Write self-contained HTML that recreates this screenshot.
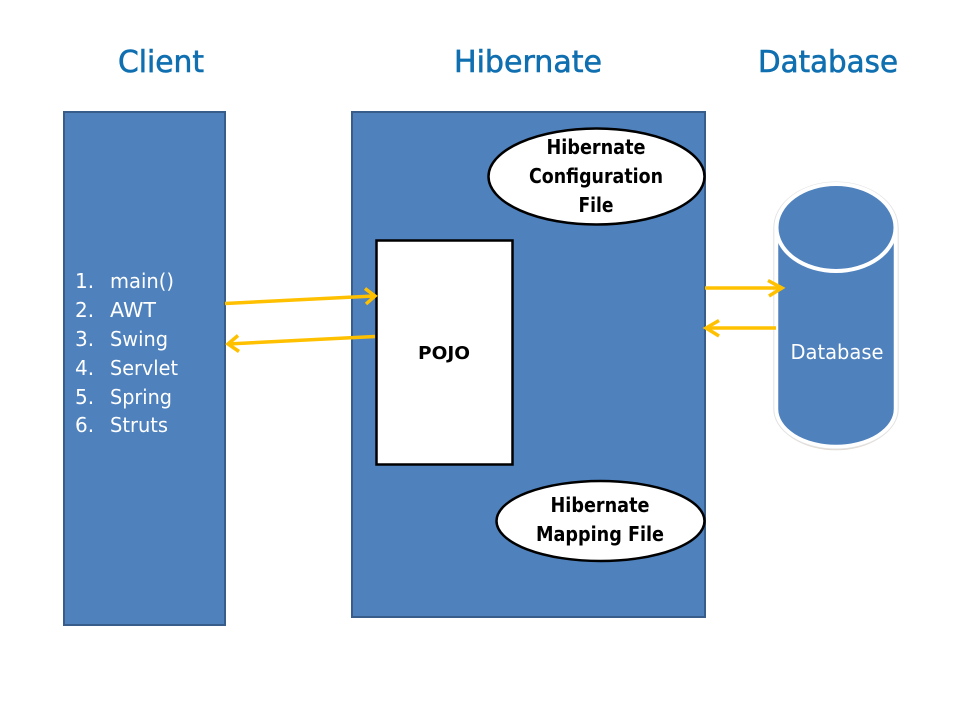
<!DOCTYPE html>
<html>
<head>
<meta charset="utf-8">
<style>
html,body{margin:0;padding:0;background:#fff;width:960px;height:720px;overflow:hidden}
svg{display:block}
text{font-family:"DejaVu Sans","Liberation Sans",sans-serif}
</style>
</head>
<body>
<svg width="960" height="720" viewBox="0 0 960 720" xmlns="http://www.w3.org/2000/svg">
<rect width="960" height="720" fill="#fff"/>
<g font-size="30" fill="#0f6fb0" stroke="#0f6fb0" stroke-width="0.6" text-anchor="middle">
<text x="161" y="72" textLength="86" lengthAdjust="spacingAndGlyphs">Client</text>
<text x="528" y="72" textLength="148" lengthAdjust="spacingAndGlyphs">Hibernate</text>
<text x="828" y="72" textLength="140" lengthAdjust="spacingAndGlyphs">Database</text>
</g>
<rect x="64" y="112" width="161" height="513" fill="#4f81bd" stroke="#385d8a" stroke-width="2"/>
<rect x="352" y="112" width="353" height="505" fill="#4f81bd" stroke="#385d8a" stroke-width="2"/>
<g font-size="20" fill="#fff">
<text x="75" y="288">1.</text><text x="110" y="288" textLength="64" lengthAdjust="spacingAndGlyphs">main()</text>
<text x="75" y="317">2.</text><text x="110" y="317" textLength="46" lengthAdjust="spacingAndGlyphs">AWT</text>
<text x="75" y="346">3.</text><text x="110" y="346" textLength="58" lengthAdjust="spacingAndGlyphs">Swing</text>
<text x="75" y="375">4.</text><text x="110" y="375" textLength="68" lengthAdjust="spacingAndGlyphs">Servlet</text>
<text x="75" y="404">5.</text><text x="110" y="404" textLength="62" lengthAdjust="spacingAndGlyphs">Spring</text>
<text x="75" y="432">6.</text><text x="110" y="432" textLength="58" lengthAdjust="spacingAndGlyphs">Struts</text>
</g>
<rect x="376.500" y="240.500" width="136" height="224" fill="#fff" stroke="#000" stroke-width="2.500"/>
<text x="444" y="359" font-size="18" font-weight="bold" fill="#000" text-anchor="middle" textLength="52" lengthAdjust="spacingAndGlyphs">POJO</text>
<ellipse cx="596.500" cy="176.500" rx="108" ry="48" fill="#fff" stroke="#000" stroke-width="2.500"/>
<g font-size="20" font-weight="bold" fill="#000" text-anchor="middle">
<text x="596" y="154" textLength="99" lengthAdjust="spacingAndGlyphs">Hibernate</text>
<text x="596" y="183" textLength="134" lengthAdjust="spacingAndGlyphs">Configuration</text>
<text x="596" y="212" textLength="35" lengthAdjust="spacingAndGlyphs">File</text>
</g>
<ellipse cx="600.500" cy="521" rx="104" ry="40" fill="#fff" stroke="#000" stroke-width="2.500"/>
<g font-size="20" font-weight="bold" fill="#000" text-anchor="middle">
<text x="600" y="512" textLength="99" lengthAdjust="spacingAndGlyphs">Hibernate</text>
<text x="600" y="541" textLength="128" lengthAdjust="spacingAndGlyphs">Mapping File</text>
</g>
<!-- soft shadow and outline of the cylinder -->
<path d="M776 228 A60 44 0 0 1 896 228 V409 A60 39 0 0 1 776 409 Z" fill="none" stroke="#c9b8a8" stroke-opacity="0.55" stroke-width="1.500" transform="translate(0 1.500)"/>
<path d="M776 228 A60 44 0 0 1 896 228 V409 A60 38 0 0 1 776 409 Z" fill="#4f81bd" stroke="#fff" stroke-width="4.500"/>
<path d="M773.800 228 A62.200 46 0 0 1 898.200 228 V409 A62.200 40 0 0 1 773.800 409 Z" fill="none" stroke="#e2e2e2" stroke-width="1"/>
<ellipse cx="836" cy="227.500" rx="59.500" ry="43.500" fill="#4f81bd" stroke="#fff" stroke-width="4"/>
<text x="837" y="359" font-size="20" fill="#fff" text-anchor="middle" textLength="93" lengthAdjust="spacingAndGlyphs">Database</text>
<g fill="none" stroke="#ffc000" stroke-width="3.500">
<path d="M225 303.500 L374 296"/><path d="M365 288.500 L375 296 L366 304"/>
<path d="M375 336.500 L228 344"/><path d="M238 335.500 L228 344 L239 351.500"/>
<path d="M705 288 H782"/><path d="M768 280.500 L782 288 L769 296"/>
<path d="M776 328 H707"/><path d="M719 320.500 L706 328 L719 336"/>
</g>
</svg>
</body>
</html>
